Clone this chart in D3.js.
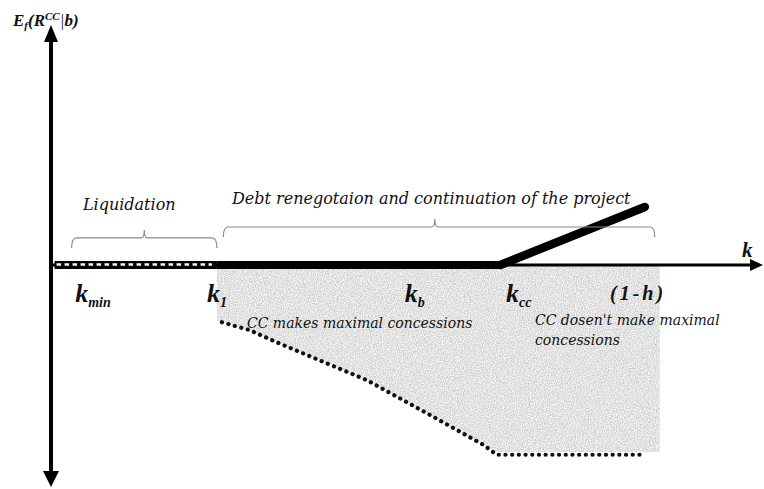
<!DOCTYPE html>
<html>
<head>
<meta charset="utf-8">
<script src="https://cdn.jsdelivr.net/npm/d3@7/dist/d3.min.js"></script>
<style>
  html, body { margin: 0; padding: 0; background: #fff; }
  svg { display: block; }
  .it { font-family: "DejaVu Serif", serif; font-style: italic; fill: #111; }
  .kb { font-family: "Liberation Serif", serif; font-style: italic; font-weight: bold; fill: #111; }
</style>
</head>
<body>
<div id="vis"></div>
<script>
// k positions on the horizontal axis (axis runs 0..10)
const kStart = 0.05;
const k1 = 2.33;
const kcc = 6.31;
const kEnd = 8.55;

// expected payoff once k passes k_cc
const riseK = [6.31, 8.34];
const riseV = [0, 0.81];

// dotted lower bound when CC makes maximal concessions
const boundK = [2.40, 2.79, 3.17, 4.44, 5.37, 6.07, 6.26, 8.34];
const boundV = [-0.80, -0.91, -1.08, -1.61, -2.12, -2.51, -2.65, -2.65];

// labels under the axis
const kLabelBase = ["k", "k", "k", "k"];
const kLabelSub = ["min", "1", "b", "cc"];
const kLabelAt = [0.34, 2.19, 4.97, 6.39];

// braces above the axis
const braceFrom = [0.29, 2.42];
const braceTo = [2.33, 8.48];
const braceMid = [1.31, 5.39];
const braceText = ["Liquidation", "Debt renegotaion and continuation of the project"];

var width = 764, height = 489;

var x = d3.scaleLinear().domain([0, 10]).range([51, 763]);
var y = d3.scaleLinear().domain([-3.1, 3.35]).range([487, 25]);

var svg = d3.select("#vis").append("svg")
    .attr("width", width)
    .attr("height", height);

var defs = svg.append("defs");
var grain = defs.append("filter").attr("id", "grain")
    .attr("color-interpolation-filters", "sRGB");
grain.append("feTurbulence")
    .attr("type", "fractalNoise")
    .attr("baseFrequency", 0.85)
    .attr("numOctaves", 2)
    .attr("seed", 3)
    .attr("result", "n");
grain.append("feColorMatrix")
    .attr("in", "n")
    .attr("type", "matrix")
    .attr("values", "0.36 0 0 0 0.71  0.36 0 0 0 0.71  0.36 0 0 0 0.71  0 0 0 0 1")
    .attr("result", "g");
grain.append("feComposite")
    .attr("in", "g").attr("in2", "SourceGraphic").attr("operator", "in");

// shaded region: between the axis and the lower bound
var lowest = d3.min(boundV) + 0.04;
var region = [[k1, 0], [kEnd, 0], [kEnd, lowest], [boundK[boundK.length - 2], lowest]];
for (var i = boundK.length - 3; i >= 0; i--) region.push([boundK[i], boundV[i]]);
region.push([k1, boundV[0] + 0.02]);

svg.append("path")
    .attr("d", d3.line().x(d => x(d[0])).y(d => y(d[1]))(region) + "Z")
    .attr("fill", "#e2e2e2")
    .attr("filter", "url(#grain)");

// dotted bound
svg.append("path")
    .datum(boundK.map((k, i) => [k, boundV[i]]))
    .attr("d", d3.line().x(d => x(d[0])).y(d => y(d[1])))
    .attr("fill", "none")
    .attr("stroke", "#111")
    .attr("stroke-width", 4.2)
    .attr("stroke-linecap", "round")
    .attr("stroke-dasharray", "0.1 6.6");

// axes
svg.append("line")
    .attr("x1", x(0)).attr("x2", x(0))
    .attr("y1", y(3.35) + 12).attr("y2", y(-3.1) - 12)
    .attr("stroke", "#000").attr("stroke-width", 4);
svg.append("path")
    .attr("d", d3.line()([[x(0), y(3.35)], [x(0) - 7, y(3.35) + 17], [x(0) + 7, y(3.35) + 17]]) + "Z")
    .attr("fill", "#000");
svg.append("path")
    .attr("d", d3.line()([[x(0), y(-3.1)], [x(0) - 8, y(-3.1) - 16], [x(0) + 8, y(-3.1) - 16]]) + "Z")
    .attr("fill", "#000");

svg.append("line")
    .attr("x1", x(0)).attr("x2", x(10) - 10)
    .attr("y1", y(0)).attr("y2", y(0))
    .attr("stroke", "#000").attr("stroke-width", 3);
svg.append("path")
    .attr("d", d3.line()([[x(10), y(0)], [x(10) - 13, y(0) - 6], [x(10) - 13, y(0) + 6]]) + "Z")
    .attr("fill", "#000");

// liquidation segment: black band with white dashes
svg.append("line")
    .attr("x1", x(kStart)).attr("x2", x(k1))
    .attr("y1", y(0)).attr("y2", y(0))
    .attr("stroke", "#000").attr("stroke-width", 8);
svg.append("line")
    .attr("x1", x(kStart) + 2).attr("x2", x(k1) - 5)
    .attr("y1", y(0) - 0.5).attr("y2", y(0) - 0.5)
    .attr("stroke", "#fff").attr("stroke-width", 2.6)
    .attr("stroke-dasharray", "4.5 3.5");

// renegotiation segment
svg.append("line")
    .attr("x1", x(k1)).attr("x2", x(kcc))
    .attr("y1", y(0)).attr("y2", y(0))
    .attr("stroke", "#000").attr("stroke-width", 8);

// rising payoff
svg.append("path")
    .datum(riseK.map((k, i) => [k, riseV[i]]))
    .attr("d", d3.line().x(d => x(d[0])).y(d => y(d[1])))
    .attr("stroke", "#000")
    .attr("stroke-width", 8.5)
    .attr("stroke-linecap", "round");

// braces
var braceTop = [0.377, 0.53];
braceFrom.forEach(function(b, i) {
    var x0 = x(b), x1 = x(braceTo[i]), xm = x(braceMid[i]);
    var yt = y(braceTop[i]), yb = yt + 10, yp = yt - 8;
    var p = d3.path();
    p.moveTo(x0, yb);
    p.quadraticCurveTo(x0, yt, x0 + 5, yt);
    p.lineTo(xm - 3, yt);
    p.quadraticCurveTo(xm, yt, xm, yp);
    p.quadraticCurveTo(xm, yt, xm + 3, yt);
    p.lineTo(x1 - 5, yt);
    p.quadraticCurveTo(x1, yt, x1, yb);
    svg.append("path")
        .attr("d", p.toString())
        .attr("fill", "none")
        .attr("stroke", "#8a8a8a")
        .attr("stroke-width", 1.2);
});

svg.append("text").attr("class", "it")
    .attr("x", x(1.31) - 15).attr("y", 210)
    .attr("text-anchor", "middle")
    .style("font-size", "16px")
    .text(braceText[0]);
svg.append("text").attr("class", "it")
    .attr("x", 232).attr("y", 204)
    .style("font-size", "16px")
    .text(braceText[1]);

// k labels
kLabelBase.forEach(function(b, i) {
    var t = svg.append("text").attr("class", "kb")
        .attr("x", x(kLabelAt[i])).attr("y", 302)
        .style("font-size", "26px");
    t.append("tspan").text(b);
    t.append("tspan").attr("dy", 5).style("font-size", "14px").text(kLabelSub[i]);
});

svg.append("text").attr("class", "kb")
    .attr("x", 610).attr("y", 300)
    .style("font-size", "20px")
    .style("letter-spacing", "3px")
    .text("(1-h)");

svg.append("text").attr("class", "kb")
    .attr("x", 742).attr("y", 257)
    .style("font-size", "21px")
    .text("k");

// region notes
svg.append("text").attr("class", "it")
    .attr("x", 247).attr("y", 328)
    .style("font-size", "14px")
    .text("CC  makes maximal concessions");
var note = svg.append("text").attr("class", "it")
    .attr("x", 535).attr("y", 325)
    .style("font-size", "14px");
note.append("tspan").attr("x", 535).text("CC dosen't make maximal");
note.append("tspan").attr("x", 535).attr("dy", 20).text("concessions");

// vertical axis title
var yl = svg.append("text").attr("class", "kb")
    .attr("x", 13).attr("y", 26)
    .style("font-size", "17px");
yl.append("tspan").text("E");
yl.append("tspan").attr("dy", 3).style("font-size", "11px").text("f");
yl.append("tspan").attr("dy", -3).text("(R");
yl.append("tspan").attr("dy", -6).style("font-size", "11px").text("CC");
yl.append("tspan").attr("dy", 6).style("font-weight", "normal").text("|");
yl.append("tspan").text("b)");
</script>
</body>
</html>
